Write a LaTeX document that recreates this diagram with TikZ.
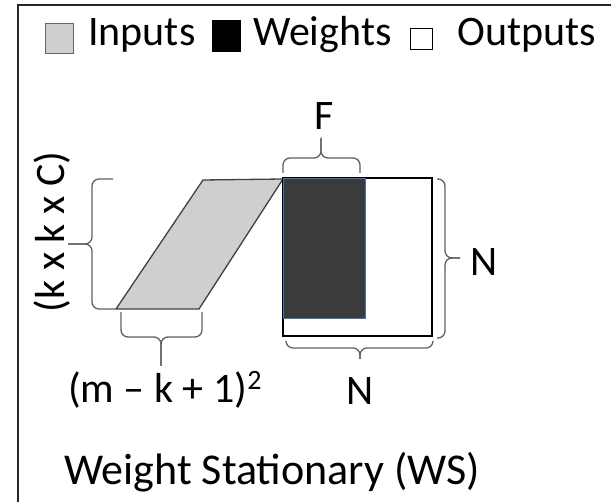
\documentclass[tikz,border=0pt]{standalone}
\usepackage{fontspec}
\setmainfont{Carlito}
\definecolor{ingray}{HTML}{D0CFD0}
\definecolor{wdark}{HTML}{3B3B3B}
\definecolor{wblue}{HTML}{4A6FB5}
\definecolor{bracegray}{HTML}{606060}
\definecolor{edgegray}{HTML}{404040}
\tikzset{
  lbl/.style={inner sep=0pt, font=\fontsize{42}{50}\selectfont},
  bigl/.style={inner sep=0pt, font=\fontsize{44}{52}\selectfont},
  bracepath/.style={draw=bracegray, line width=1.3pt, rounded corners=7pt},
  keybox/.style={inner sep=0pt, anchor=north west}
}
\begin{document}
\begin{tikzpicture}[x=1pt,y=-1pt]
\useasboundingbox (0,0) rectangle (611,502);
% frame
\draw[line width=1.6pt, black!85] (18,502) -- (18,5) -- (611,5);
% legend
\node[keybox, draw=black!60, fill=ingray, minimum width=28pt, minimum height=30pt] (kin) at (45,23) {};
\node[lbl, anchor=base west] (tin) at (88,46) {Inputs};
\node[keybox, fill=black, minimum width=29pt, minimum height=32pt] (kw) at (212,20) {};
\node[lbl, anchor=base west] (tw) at (253,46) {Weights};
\node[keybox, draw=black, line width=1pt, minimum width=22pt, minimum height=21pt] (kout) at (410,28) {};
\node[lbl, anchor=base west] (tout) at (457,46) {Outputs};
% inputs parallelogram
\draw[fill=ingray, draw=edgegray, line width=1.3pt, line join=round]
  (203,180) coordinate (pA) -- (283,179) coordinate (pB) -- (199,309) coordinate (pC) -- (116,309) coordinate (pD) -- cycle;
% outputs square
\draw[line width=2.2pt, fill=white] (283,178) coordinate (sqTL) rectangle (432,336) coordinate (sqBR);
% weights
\draw[fill=wdark, draw=wblue, line width=1pt] (283.5,178.5) rectangle (365,319);
% braces
\draw[bracepath] (113,179) -- (92,179) -- (92,244) -- (68,244);
\draw[bracepath] (68,244) -- (92,244) -- (92,309) -- (116,309);
\draw[bracepath] (283,173) -- (283,158) -- (321,158) -- (321,138);
\draw[bracepath] (321,138) -- (321,158) -- (360,158) -- (360,173);
\draw[bracepath] (437,179) -- (445,179) -- (445,258) -- (460,258);
\draw[bracepath] (460,258) -- (445,258) -- (445,338) -- (437,338);
\draw[bracepath] (286,342) -- (286,348) -- (360,348) -- (360,359);
\draw[bracepath] (360,359) -- (360,348) -- (433,348) -- (433,342);
\draw[bracepath] (121,312) -- (121,337) -- (161,337) -- (161,366);
\draw[bracepath] (161,366) -- (161,337) -- (202,337) -- (202,312);
% labels
\node[lbl, rotate=90] (tkk) at (52,232) {(k x k x C)};
\node[lbl, anchor=base] (tF) at (324,130) {F};
\node[lbl, anchor=base west] (tNr) at (470,276) {N};
\node[lbl, anchor=base] (tNb) at (360,405) {N};
\node[lbl, anchor=base west] (tm) at (68,403) {(m – k + 1)\raisebox{13pt}{\fontsize{28}{30}\selectfont 2}};
\node[bigl, anchor=base west] (tws) at (64,485) {Weight Stationary (WS)};
\end{tikzpicture}
\end{document}
